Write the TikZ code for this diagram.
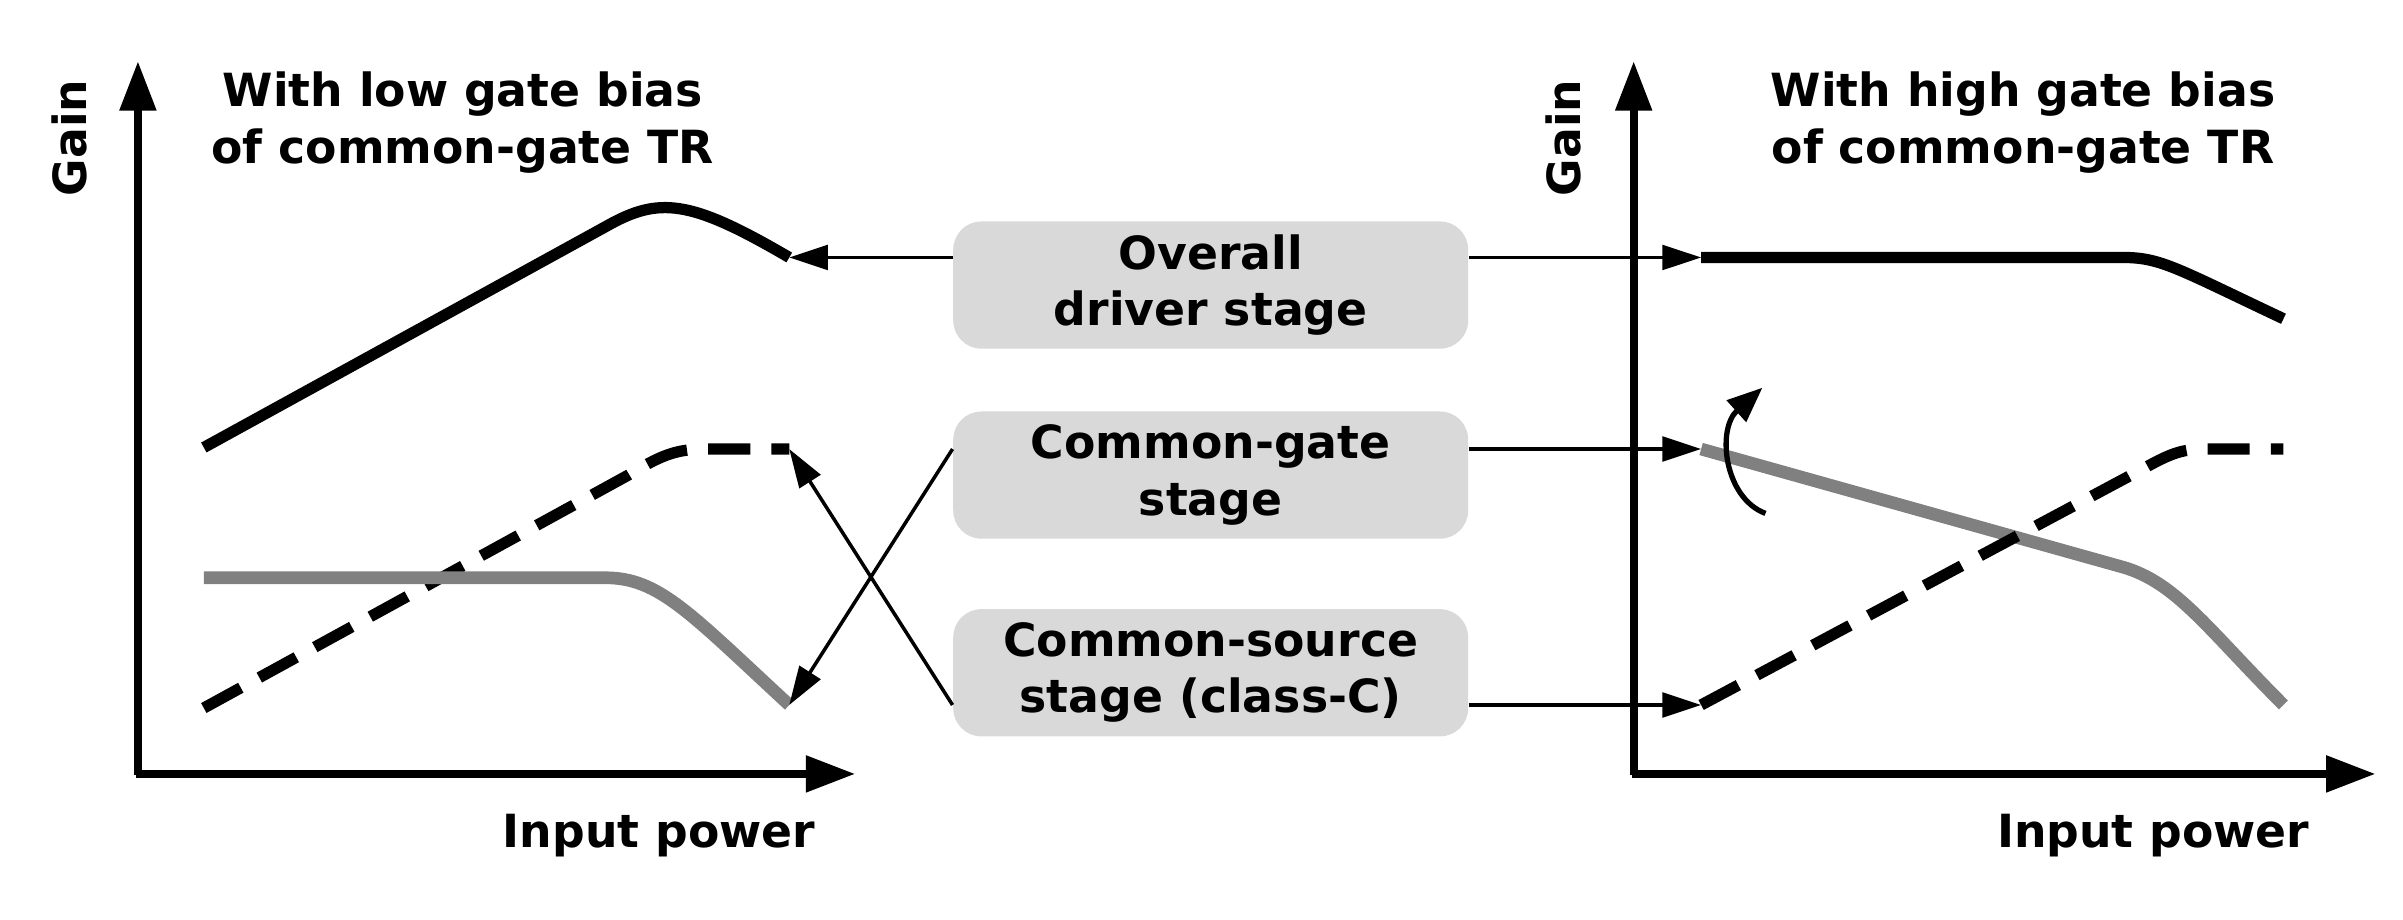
\documentclass[tikz,border=0pt]{standalone}
\usepackage{fontspec}
\setmainfont{DejaVu Sans}
\usetikzlibrary{arrows.meta}
\begin{document}
\begin{tikzpicture}[x=0.015325cm,y=-0.015325cm,
  lbl/.style={font=\bfseries\fontsize{13}{16}\selectfont,align=center},
  box/.style={lbl,fill=black!15,rounded corners=8pt,minimum width=336*0.015325cm,minimum height=83*0.015325cm,inner sep=0pt},
  axis/.style={line width=2.2pt,-{Triangle[length=14pt,width=10pt]}},
  arr/.style={line width=1pt,-{Triangle[length=11pt,width=7pt]}},
  blk/.style={line width=3.2pt},
  dsh/.style={line width=3.2pt,dash pattern=on 12pt off 6pt},
  gry/.style={line width=3.6pt,draw=black!50}]
\useasboundingbox (0,0) rectangle (1568,600);
% axes
\coordinate (o1) at (90,505); \coordinate (y1) at (90,40); \coordinate (x1) at (558,505);
\coordinate (o2) at (1066,505); \coordinate (y2) at (1066,40); \coordinate (x2) at (1550,505);
\draw[axis] (90,506) -- (y1); \draw[axis] (89,505) -- (x1);
\draw[axis] (1066,506) -- (y2); \draw[axis] (1065,505) -- (x2);
\node[lbl,rotate=90] (g1) at (45,90) {Gain};
\node[lbl,rotate=90] (g2) at (1020,90) {Gain};
\node[lbl] (t1) at (302,80) {With low gate bias\\of common-gate TR};
\node[lbl] (t2) at (1320,80) {With high gate bias\\of common-gate TR};
\node[lbl] (ip1) at (430,545) {Input power};
\node[lbl] (ip2) at (1405,545) {Input power};
% boxes
\node[box] (b1) at (790,186) {Overall\\driver stage};
\node[box] (b2) at (790,310) {Common-gate\\stage};
\node[box] (b3) at (790,439) {Common-source\\stage (class-C)};
% left curves
\coordinate (la) at (515,168); \coordinate (lb) at (515,293); \coordinate (lc) at (515,460);
\draw[blk] (133,292) -- (395,148) .. controls (430,128) and (450,130) .. (la);
\draw[dsh] (133,462) -- (410,310) .. controls (430,298) and (440,293) .. (460,293) -- (lb);
\draw[gry] (133,377) -- (395,377) .. controls (430,377) and (450,400) .. (lc);
% right curves
\coordinate (ra) at (1110,168); \coordinate (rb) at (1110,293); \coordinate (rc) at (1110,460);
\draw[blk] (ra) -- (1385,168) .. controls (1410,168) and (1420,175) .. (1490,208);
\draw[gry] (rb) -- (1385,370) .. controls (1420,380) and (1440,410) .. (1490,460);
\draw[dsh] (rc) .. controls (1118,456) and (1118,456) .. (1125,452) -- (1400,305) .. controls (1418,295) and (1425,293) .. (1440,293) -- (1490,293);
% arrows
\draw[arr] (b1.west |- la) -- (la);
\draw[arr] (b2.west |- lb) -- (lc);
\draw[arr] (b3.west |- lc) -- (lb);
\draw[arr] (b1.east |- ra) -- (ra);
\draw[arr] (b2.east |- rb) -- (rb);
\draw[arr] (b3.east |- rc) -- (rc);
\coordinate (ca) at (1152,335); \coordinate (cb) at (1150,253);
\draw[line width=1.5pt,-{Triangle[length=10pt,width=8pt]}] (ca) .. controls (1125,325) and (1120,280) .. (cb);
\end{tikzpicture}
\end{document}
